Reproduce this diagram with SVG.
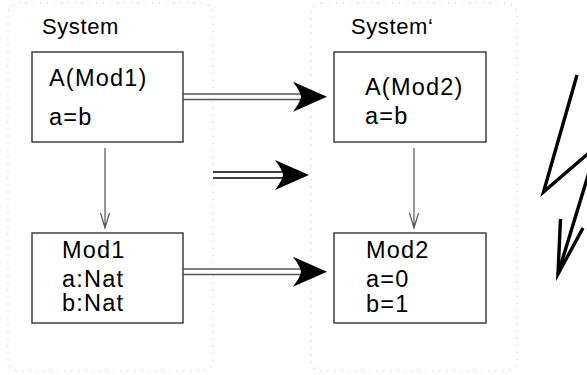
<svg xmlns="http://www.w3.org/2000/svg" width="587" height="375" viewBox="0 0 587 375">
  <style>
    .frame { fill: none; stroke: #c8c8c8; stroke-width: 1.2; stroke-dasharray: 1 6; }
    .box { fill: #ffffff; stroke: #333333; stroke-width: 1.4; }
    .label { font-family: "Liberation Sans", "DejaVu Sans", sans-serif; font-size: 23.5px; fill: #000000; letter-spacing: 1.2px; }
    .title { font-family: "Liberation Sans", "DejaVu Sans", sans-serif; font-size: 22px; fill: #000000; letter-spacing: 0.6px; }
    .rail { fill: none; stroke: #555555; stroke-width: 1.5; }
    .rail-dark { fill: none; stroke: #000000; stroke-width: 1.5; }
    .dep { fill: none; stroke: #555555; stroke-width: 1.2; }
    .head { fill: #000000; stroke: none; }
    .bolt { fill: none; stroke: #000000; stroke-width: 3.4; stroke-linejoin: miter; stroke-miterlimit: 20; }
  </style>
  <defs>
    <!-- curved-back filled head, tip at origin pointing right -->
    <path id="bighead" class="head" d="M0,0 L-34,-15 Q-26,-4 -26,0 Q-26,4 -34,15 Z"/>
  </defs>

  <rect width="587" height="375" fill="#ffffff"/>

  <!-- system frames -->
  <g id="system">
    <rect class="frame" x="8" y="3" width="205" height="368" rx="11"/>
    <text class="title" x="42" y="34">System</text>
  </g>
  <g id="system-prime">
    <rect class="frame" x="311" y="3" width="206" height="368" rx="11"/>
    <text class="title" x="351" y="34">System‘</text>
  </g>

  <!-- nodes -->
  <g id="a-mod1">
    <rect class="box" x="32" y="52" width="151" height="90"/>
    <text class="label" x="49" y="86">A(Mod1)</text>
    <text class="label" x="49" y="125">a=b</text>
  </g>
  <g id="a-mod2">
    <rect class="box" x="334" y="52" width="152" height="90"/>
    <text class="label" x="365" y="95">A(Mod2)</text>
    <text class="label" x="365" y="124">a=b</text>
  </g>
  <g id="mod1">
    <rect class="box" x="32" y="233" width="151" height="90"/>
    <text class="label" x="62" y="258">Mod1</text>
    <text class="label" x="62" y="287">a:Nat</text>
    <text class="label" x="62" y="311">b:Nat</text>
  </g>
  <g id="mod2">
    <rect class="box" x="334" y="233" width="152" height="90"/>
    <text class="label" x="366" y="258">Mod2</text>
    <text class="label" x="366" y="287">a=0</text>
    <text class="label" x="366" y="312">b=1</text>
  </g>

  <!-- connectors -->
  <g id="connectors">
    <!-- refinement arrows -->
    <path class="rail" d="M183,94 H302 M183,99.5 H302"/>
    <use href="#bighead" x="327" y="96.8"/>

    <path class="rail-dark" d="M213,172 H285 M213,178 H285"/>
    <use href="#bighead" x="309" y="175"/>

    <path class="rail" d="M183,269 H302 M183,274.5 H302"/>
    <use href="#bighead" x="327" y="271.8"/>

    <!-- dependency arrows -->
    <path class="dep" d="M105,148 V228 M100.5,213 L105,228 L109.5,213"/>
    <path class="dep" d="M414,148 V228 M409.5,213 L414,228 L418.5,213"/>

    <!-- lightning bolt -->
    <path class="bolt" d="M577,75 L543.5,192 L597,146 L558,274"/>
    <path class="bolt" d="M560.5,219 L558,274 L583,228"/>
  </g>
</svg>
